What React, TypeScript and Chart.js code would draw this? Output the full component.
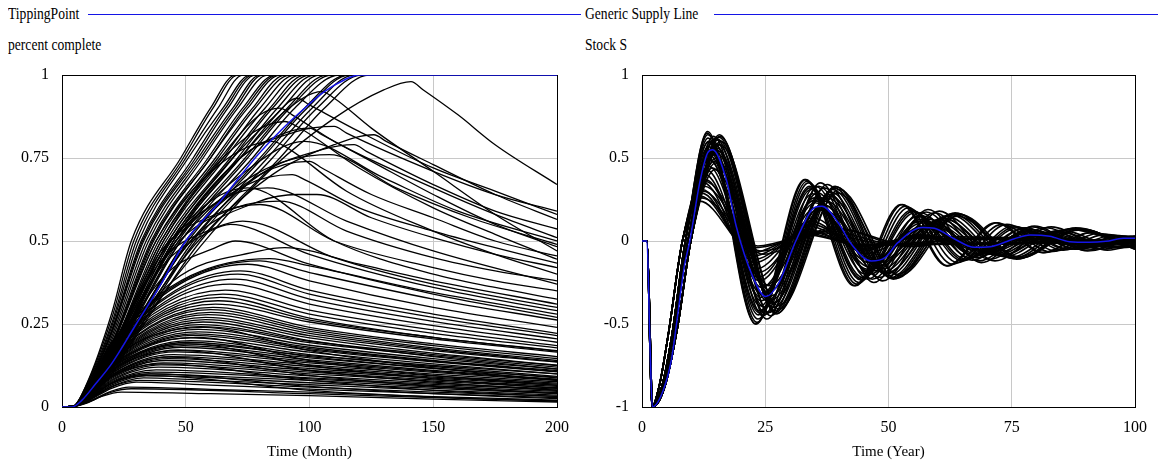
import React, { useEffect, useRef } from "react";
import { Chart, registerables } from "chart.js";
Chart.register(...registerables);

const SERIF = "'Liberation Serif', 'Times New Roman', serif";

// ---------- Left panel: TippingPoint / percent complete ----------
const TP_X_TICKS = [0, 50, 100, 150, 200];
const TP_Y_TICKS = [0, 0.25, 0.5, 0.75, 1];
// flat pairs: time, value
const TP_BASE = [0,0, 4,0, 8,0.02, 13.6,0.07, 20,0.13, 30,0.25, 40,0.37, 50,0.5, 64,0.62, 78,0.75, 88,0.83, 98,0.9, 106,0.95, 114,0.985, 120,1, 200,1];

const TP_SATURATING = [
  [0,0, 4,0, 10,0.07, 20,0.28, 28,0.5, 48,0.75, 60,0.9, 70,1, 200,1],
  [0,0, 4,0, 10,0.068, 20,0.265, 29,0.5, 49,0.75, 61,0.9, 71,1, 200,1],
  [0,0, 4,0, 10,0.065, 20,0.25, 30,0.5, 50,0.75, 63,0.9, 73,1, 200,1],
  [0,0, 4,0, 10,0.06, 20,0.24, 31,0.5, 51,0.75, 65,0.9, 76,1, 200,1],
  [0,0, 4,0, 10,0.06, 20,0.23, 32,0.5, 53,0.75, 66,0.9, 77,1, 200,1],
  [0,0, 4,0, 10,0.058, 20,0.225, 32.5,0.5, 54,0.75, 67,0.9, 78,1, 200,1],
  [0,0, 4,0, 10,0.055, 20,0.22, 33,0.5, 55,0.75, 69,0.9, 80,1, 200,1],
  [0,0, 4,0, 10,0.052, 20,0.21, 34,0.5, 56,0.75, 70,0.9, 81,1, 200,1],
  [0,0, 4,0, 10,0.05, 20,0.2, 35,0.5, 57,0.75, 71,0.9, 83,1, 200,1],
  [0,0, 4,0, 10,0.05, 20,0.19, 36,0.5, 59,0.75, 73,0.9, 86,1, 200,1],
  [0,0, 4,0, 10,0.05, 20,0.185, 36.5,0.5, 60,0.75, 74,0.9, 87,1, 200,1],
  [0,0, 4,0, 10,0.05, 20,0.18, 37,0.5, 60,0.75, 75,0.9, 88,1, 200,1],
  [0,0, 4,0, 10,0.045, 20,0.18, 38,0.5, 62,0.75, 77,0.9, 90,1, 200,1],
  [0,0, 4,0, 10,0.045, 20,0.17, 39,0.5, 63,0.75, 78,0.9, 92,1, 200,1],
  [0,0, 4,0, 10,0.045, 20,0.17, 40,0.5, 65,0.75, 80,0.9, 94,1, 200,1],
  [0,0, 4,0, 10,0.042, 20,0.165, 41,0.5, 66,0.75, 82,0.9, 96,1, 200,1],
  [0,0, 4,0, 10,0.04, 20,0.16, 42,0.5, 68,0.75, 84,0.9, 98,1, 200,1],
  [0,0, 4,0, 10,0.04, 20,0.155, 43,0.5, 69,0.75, 85,0.9, 100,1, 200,1],
  [0,0, 4,0, 10,0.04, 20,0.15, 44,0.5, 71,0.75, 87,0.9, 102,1, 200,1],
  [0,0, 4,0, 10,0.038, 20,0.145, 45,0.5, 72,0.75, 89,0.9, 104,1, 200,1],
  [0,0, 4,0, 10,0.035, 20,0.14, 46,0.5, 74,0.75, 91,0.9, 107,1, 200,1],
  [0,0, 4,0, 10,0.035, 20,0.138, 47,0.5, 75,0.75, 92,0.9, 109,1, 200,1],
  [0,0, 4,0, 10,0.035, 20,0.135, 48,0.5, 77,0.75, 94,0.9, 112,1, 200,1],
  [0,0, 4,0, 10,0.033, 20,0.128, 50,0.5, 80,0.75, 98,0.9, 115,1, 200,1],
  [0,0, 4,0, 10,0.032, 20,0.125, 51,0.5, 81,0.75, 99,0.9, 116,1, 200,1],
  [0,0, 4,0, 10,0.03, 20,0.12, 53,0.5, 83,0.75, 101,0.9, 118,1, 200,1],
  [0,0, 4,0, 10,0.03, 20,0.115, 54,0.5, 85,0.75, 103,0.9, 121,1, 200,1],
  [0,0, 4,0, 10,0.03, 20,0.11, 56,0.5, 88,0.75, 106,0.9, 124,1, 200,1],
];

const TP_PEAKED_HIGH = [
  [0,0, 5,0.003, 10,0.025, 20,0.1, 35,0.28, 60,0.52, 85,0.72, 110,0.87, 130,0.955, 141,0.98, 146,0.955, 160,0.88, 175,0.79, 200,0.67],
  [0,0, 5,0.003, 10,0.028, 20,0.11, 35,0.3, 55,0.5, 85,0.7, 110,0.79, 126,0.82, 131,0.8, 150,0.73, 175,0.64, 200,0.565],
  [0,0, 5,0.003, 10,0.03, 20,0.12, 35,0.32, 52,0.5, 80,0.7, 105,0.775, 118,0.79, 123,0.77, 150,0.67, 175,0.59, 200,0.536],
  [0,0, 5,0.003, 10,0.035, 20,0.14, 45,0.5, 72,0.75, 95,0.83, 110,0.845, 115,0.825, 150,0.71, 175,0.64, 200,0.59],
  [0,0, 5,0.003, 10,0.04, 20,0.15, 44,0.5, 72,0.75, 90,0.825, 100,0.84, 105,0.82, 125,0.74, 150,0.64, 175,0.55, 200,0.483],
  [0,0, 5,0.003, 10,0.03, 20,0.12, 50,0.5, 80,0.7, 100,0.74, 105,0.72, 125,0.64, 150,0.57, 175,0.5, 200,0.455],
  [0,0, 5,0.003, 10,0.03, 20,0.12, 52,0.5, 80,0.62, 95,0.64, 103,0.64, 125,0.57, 150,0.51, 175,0.46, 200,0.42],
  [0,0, 5,0.003, 10,0.035, 20,0.14, 46,0.5, 75,0.67, 93,0.7, 98,0.685, 120,0.6, 150,0.53, 175,0.48, 200,0.433],
  [0,0, 5,0.003, 10,0.04, 20,0.15, 45,0.48, 70,0.6, 88,0.62, 115,0.53, 150,0.45, 175,0.41, 200,0.38],
  [0,0, 5,0.003, 10,0.045, 20,0.17, 40,0.47, 62,0.58, 80,0.61, 110,0.5, 150,0.42, 175,0.38, 200,0.35],
  [0,0, 5,0.003, 10,0.04, 20,0.16, 43,0.5, 69,0.75, 85,0.87, 95,0.93, 100,0.91, 120,0.83, 150,0.72, 175,0.65, 200,0.58],
  [0,0, 5,0.003, 10,0.038, 20,0.15, 45,0.5, 72,0.75, 90,0.89, 105,0.95, 110,0.93, 125,0.84, 150,0.71, 175,0.58, 200,0.47],
  [0,0, 5,0.003, 10,0.045, 20,0.17, 41,0.5, 65,0.75, 90,0.86, 95,0.845, 120,0.72, 150,0.6, 175,0.52, 200,0.445],
  [0,0, 5,0.003, 10,0.05, 20,0.19, 38,0.5, 62,0.72, 85,0.8, 90,0.785, 115,0.65, 150,0.53, 175,0.46, 200,0.4],
  [0,0, 5,0.003, 10,0.05, 20,0.18, 40,0.46, 60,0.62, 75,0.66, 110,0.5, 150,0.4, 175,0.36, 200,0.325],
  [0,0, 5,0.003, 10,0.045, 20,0.17, 40,0.5, 64,0.75, 80,0.88, 88,0.9, 93,0.88, 110,0.8, 150,0.66, 175,0.58, 200,0.51],
  [0,0, 5,0.003, 10,0.04, 20,0.155, 46,0.5, 76,0.72, 98,0.8, 130,0.69, 160,0.59, 200,0.5],
  [0,0, 5,0.003, 10,0.035, 20,0.14, 48,0.5, 78,0.7, 108,0.76, 135,0.66, 165,0.57, 200,0.49],
  [0,0, 5,0.003, 10,0.045, 20,0.17, 42,0.48, 66,0.63, 83,0.66, 115,0.56, 150,0.47, 200,0.37],
  [0,0, 5,0.003, 10,0.05, 20,0.18, 40,0.44, 62,0.54, 73,0.56, 110,0.45, 150,0.37, 200,0.3],
];

const TP_PEAKED_MID = [
  [0,0, 5,0.003, 10,0.045, 20,0.17, 40,0.42, 60,0.53, 68,0.55, 100,0.46, 150,0.36, 200,0.29],
  [0,0, 5,0.003, 10,0.042, 20,0.16, 42,0.4, 62,0.48, 70,0.5, 100,0.43, 150,0.34, 200,0.27],
  [0,0, 5,0.003, 10,0.04, 20,0.15, 45,0.38, 80,0.47, 90,0.48, 120,0.43, 150,0.38, 200,0.31],
];

const TP_PEAKED_LOW = [
  [0,0, 5,0.002, 10,0.012, 16,0.032, 24,0.045, 60,0.04, 100,0.034, 150,0.024, 200,0.015],
  [0,0, 5,0.002, 10,0.013, 20,0.045, 28,0.055, 100,0.04, 150,0.028, 200,0.018],
  [0,0, 5,0.002, 10,0.014, 20,0.048, 27,0.06, 60,0.053, 100,0.045, 150,0.031, 200,0.021],
  [0,0, 5,0.002, 10,0.016, 20,0.056, 30,0.075, 60,0.066, 100,0.054, 150,0.04, 200,0.028],
  [0,0, 5,0.002, 10,0.017, 20,0.06, 31,0.08, 100,0.06, 150,0.045, 200,0.032],
  [0,0, 5,0.002, 10,0.018, 20,0.062, 33,0.088, 60,0.08, 100,0.067, 150,0.051, 200,0.036],
  [0,0, 5,0.002, 10,0.019, 20,0.066, 34,0.094, 100,0.073, 150,0.056, 200,0.04],
  [0,0, 5,0.002, 10,0.02, 20,0.07, 35,0.1, 60,0.093, 100,0.08, 150,0.06, 200,0.043],
  [0,0, 5,0.002, 10,0.021, 20,0.073, 36,0.105, 100,0.085, 150,0.064, 200,0.047],
  [0,0, 5,0.002, 10,0.022, 20,0.076, 38,0.112, 100,0.088, 150,0.068, 200,0.051],
  [0,0, 5,0.002, 10,0.023, 20,0.079, 39,0.12, 100,0.094, 150,0.072, 200,0.054],
  [0,0, 5,0.002, 10,0.024, 20,0.082, 40,0.127, 100,0.1, 150,0.078, 200,0.058],
  [0,0, 5,0.002, 10,0.025, 20,0.086, 41,0.133, 100,0.105, 150,0.082, 200,0.062],
  [0,0, 5,0.002, 10,0.026, 20,0.09, 42,0.14, 100,0.11, 150,0.087, 200,0.066],
  [0,0, 5,0.002, 10,0.027, 20,0.092, 43,0.146, 100,0.116, 150,0.09, 200,0.069],
  [0,0, 5,0.002, 10,0.027, 20,0.094, 44,0.152, 100,0.122, 150,0.094, 200,0.072],
  [0,0, 5,0.002, 10,0.028, 20,0.097, 45,0.158, 100,0.127, 150,0.099, 200,0.076],
  [0,0, 5,0.002, 10,0.028, 20,0.1, 46,0.166, 100,0.133, 150,0.104, 200,0.08],
  [0,0, 5,0.002, 10,0.029, 20,0.102, 47,0.172, 100,0.137, 150,0.107, 200,0.082],
  [0,0, 5,0.002, 10,0.03, 20,0.105, 48,0.18, 100,0.142, 150,0.11, 200,0.084],
  [0,0, 5,0.002, 10,0.03, 20,0.108, 49,0.185, 100,0.148, 150,0.116, 200,0.09],
  [0,0, 5,0.002, 10,0.03, 20,0.11, 50,0.19, 100,0.155, 150,0.125, 200,0.1],
  [0,0, 5,0.002, 10,0.031, 20,0.112, 51,0.195, 100,0.152, 150,0.117, 200,0.088],
  [0,0, 5,0.002, 10,0.031, 20,0.115, 52,0.2, 100,0.158, 150,0.122, 200,0.092],
  [0,0, 5,0.002, 10,0.032, 20,0.118, 52,0.208, 100,0.165, 150,0.13, 200,0.1],
  [0,0, 5,0.002, 10,0.032, 20,0.12, 53,0.216, 100,0.172, 150,0.136, 200,0.106],
  [0,0, 5,0.002, 10,0.033, 20,0.122, 54,0.22, 100,0.176, 150,0.138, 200,0.107],
  [0,0, 5,0.002, 10,0.033, 20,0.125, 55,0.226, 100,0.18, 150,0.14, 200,0.11],
  [0,0, 5,0.002, 10,0.034, 20,0.128, 55,0.234, 100,0.186, 150,0.146, 200,0.114],
  [0,0, 5,0.002, 10,0.034, 20,0.13, 56,0.242, 100,0.194, 150,0.154, 200,0.12],
  [0,0, 5,0.002, 10,0.035, 20,0.132, 56,0.248, 100,0.198, 150,0.158, 200,0.125],
  [0,0, 5,0.002, 10,0.035, 20,0.135, 57,0.256, 100,0.2, 150,0.152, 200,0.115],
  [0,0, 5,0.002, 10,0.036, 20,0.138, 58,0.263, 100,0.208, 150,0.162, 200,0.126],
  [0,0, 5,0.002, 10,0.036, 20,0.14, 58,0.27, 100,0.215, 150,0.17, 200,0.135],
  [0,0, 5,0.002, 10,0.037, 20,0.142, 59,0.278, 100,0.222, 150,0.174, 200,0.137],
  [0,0, 5,0.002, 10,0.037, 20,0.145, 60,0.285, 100,0.228, 150,0.178, 200,0.14],
  [0,0, 5,0.002, 10,0.038, 20,0.148, 60,0.293, 100,0.234, 150,0.185, 200,0.146],
  [0,0, 5,0.002, 10,0.038, 20,0.15, 61,0.3, 100,0.24, 150,0.19, 200,0.152],
  [0,0, 5,0.002, 10,0.039, 20,0.155, 62,0.31, 100,0.256, 150,0.205, 200,0.165],
  [0,0, 5,0.002, 10,0.04, 20,0.158, 63,0.32, 100,0.262, 150,0.21, 200,0.168],
  [0,0, 5,0.002, 10,0.04, 20,0.16, 64,0.33, 100,0.268, 150,0.21, 200,0.17],
  [0,0, 5,0.002, 10,0.041, 20,0.164, 65,0.34, 100,0.28, 150,0.222, 200,0.178],
  [0,0, 5,0.002, 10,0.042, 20,0.168, 66,0.352, 100,0.292, 150,0.232, 200,0.185],
  [0,0, 5,0.002, 10,0.042, 20,0.17, 68,0.37, 100,0.31, 150,0.245, 200,0.195],
  [0,0, 5,0.002, 10,0.043, 20,0.172, 70,0.385, 100,0.325, 150,0.258, 200,0.205],
  [0,0, 5,0.002, 10,0.044, 20,0.176, 71,0.4, 100,0.34, 150,0.27, 200,0.215],
  [0,0, 5,0.002, 10,0.045, 20,0.178, 72,0.41, 100,0.352, 150,0.28, 200,0.222],
  [0,0, 5,0.002, 10,0.046, 20,0.184, 75,0.43, 100,0.38, 150,0.3, 200,0.24],
  [0,0, 5,0.002, 10,0.047, 20,0.19, 80,0.44, 100,0.405, 150,0.325, 200,0.262],
  [0,0, 5,0.002, 10,0.048, 20,0.195, 84,0.447, 100,0.425, 150,0.345, 200,0.28],
  [0,0, 5,0.002, 10,0.02, 20,0.07, 34,0.095, 100,0.05, 150,0.03, 200,0.018],
  [0,0, 5,0.002, 10,0.02, 20,0.072, 36,0.1, 100,0.062, 150,0.04, 200,0.025],
  [0,0, 5,0.002, 10,0.025, 20,0.09, 40,0.13, 100,0.08, 150,0.05, 200,0.032],
  [0,0, 5,0.002, 10,0.027, 20,0.095, 43,0.15, 100,0.095, 150,0.062, 200,0.04],
  [0,0, 5,0.002, 10,0.03, 20,0.11, 47,0.17, 100,0.11, 150,0.075, 200,0.05],
  [0,0, 5,0.002, 10,0.032, 20,0.118, 51,0.19, 100,0.125, 150,0.085, 200,0.056],
  [0,0, 5,0.002, 10,0.033, 20,0.125, 54,0.21, 100,0.14, 150,0.095, 200,0.065],
  [0,0, 5,0.002, 10,0.036, 20,0.14, 57,0.24, 100,0.17, 150,0.118, 200,0.08],
];

// ---------- Right panel: Generic Supply Line / Stock S ----------
const SS_X_TICKS = [0, 25, 50, 75, 100];
const SS_Y_TICKS = [-1, -0.5, 0, 0.5, 1];
const SS_BASE = [0,0, 1,0, 1.6,-0.6, 2.1,-1, 4.3,-0.9, 6,-0.71, 7,-0.5, 8.6,-0.15, 9.7,0, 11.7,0.35, 13.3,0.53, 14.3,0.55, 17.1,0.37, 19.1,0.09, 22.4,-0.21, 25.1,-0.335, 27.8,-0.25, 31.2,0, 35.2,0.205, 36.5,0.21, 39.8,0.11, 42.5,-0.02, 46.5,-0.12, 49.3,-0.1, 51.9,-0.01, 56.9,0.082, 59.3,0.077, 63.4,0.012, 67.4,-0.038, 70.7,-0.034, 75.4,0.012, 78.7,0.036, 82.7,0.028, 86.7,-0.004, 90.7,-0.008, 94.1,-0.002, 97.6,0.016, 100,0.016];

const SS_START_A = [0,0, 1,0, 2.1,-1, 4,-0.88, 6,-0.58, 8.8,0];
const SS_START_B = [0,0, 1,0, 2.2,-1, 4.6,-0.88, 7.2,-0.52, 9.9,0];
const SS_START_C = [0,0, 1,0, 2.15,-1, 4.2,-0.88, 6.5,-0.55, 9.3,0];
const SS_START_D = [0,0, 1,0, 2,-1, 3.6,-0.86, 5.4,-0.55, 8.2,0];

const SS_RUNS_A = [
  [13.3,0.66, 23.1,-0.5, 33.2,0.37, 43.3,-0.27, 52.8,0.22, 62,-0.15, 72,0.11, 81.5,-0.07, 91,0.05, 100,-0.02],
  [13.25,0.65, 23,-0.5, 33,0.37, 43,-0.27, 52.5,0.22, 61.8,-0.15, 71.6,0.11, 81.2,-0.07, 90.8,0.05, 100,-0.025],
  [13.35,0.64, 23.3,-0.49, 33.5,0.36, 43.6,-0.26, 53.4,0.21, 63,-0.14, 73,0.1, 82.8,-0.065, 92.5,0.045, 100,-0.01],
  [13.4,0.62, 23.5,-0.47, 33.8,0.35, 44,-0.25, 54,0.2, 64,-0.13, 74,0.1, 84,-0.06, 94,0.04, 100,0.01],
  [13.45,0.595, 23.6,-0.445, 34,0.33, 44.4,-0.235, 54.6,0.185, 65,-0.12, 75.2,0.09, 85.4,-0.055, 95.6,0.035, 100,0.02],
  [13.5,0.6, 23.7,-0.43, 34.1,0.32, 44.6,-0.23, 55,0.18, 65.4,-0.115, 75.8,0.085, 86.2,-0.05, 96.6,0.03, 100,0.02],
  [13.5,0.57, 23.8,-0.42, 34.3,0.31, 44.8,-0.22, 55.3,0.17, 65.8,-0.11, 76.3,0.08, 86.8,-0.05, 97.3,0.03, 100,0.02],
  [13.55,0.545, 24,-0.39, 34.6,0.285, 45.3,-0.2, 56,0.15, 66.6,-0.1, 77.2,0.07, 88,-0.045, 98.5,0.025, 100,0.024],
  [13.6,0.52, 24.2,-0.36, 35,0.26, 45.8,-0.18, 56.6,0.13, 67.4,-0.09, 78.2,0.06, 89,-0.04, 100,0.02],
  [13.5,0.5, 24.1,-0.34, 34.9,0.245, 45.7,-0.17, 56.5,0.12, 67.3,-0.08, 78,0.055, 88.8,-0.035, 100,0.02],
  [13.6,0.49, 24.2,-0.32, 35.1,0.23, 46,-0.155, 56.8,0.11, 67.7,-0.075, 78.6,0.05, 89.5,-0.03, 100,0.015],
  [13.5,0.45, 24.3,-0.28, 35.2,0.2, 46,-0.13, 57,0.09, 68,-0.06, 79,0.04, 90,-0.025, 100,0.01],
];
const SS_RUNS_B = [
  [15.7,0.64, 27.2,-0.44, 39.2,0.33, 51,-0.23, 63.5,0.17, 76,-0.11, 88,0.08, 100,-0.05],
  [15.8,0.63, 27.4,-0.435, 39.5,0.325, 51.5,-0.225, 64,0.165, 76.4,-0.105, 88.6,0.075, 100,-0.05],
  [15.6,0.625, 27,-0.43, 39,0.32, 50.7,-0.225, 63,0.165, 75.2,-0.105, 87.2,0.075, 100,-0.045],
  [15.5,0.61, 26.9,-0.42, 38.7,0.31, 50.4,-0.22, 62.5,0.16, 74.5,-0.1, 86.5,0.07, 100,-0.04],
  [15.35,0.585, 26.7,-0.4, 38.3,0.295, 50,-0.21, 61.7,0.15, 73.5,-0.095, 85,0.065, 96.8,-0.04, 100,-0.035],
  [15.9,0.58, 27.6,-0.39, 39.7,0.29, 51.8,-0.2, 64,0.15, 76.3,-0.095, 88.5,0.065, 100,-0.04],
  [15.2,0.56, 26.5,-0.38, 38,0.28, 49.5,-0.2, 61,0.14, 72.5,-0.09, 84,0.06, 95.5,-0.04, 100,-0.03],
  [15.25,0.545, 26.6,-0.37, 38.1,0.27, 49.7,-0.19, 61.3,0.135, 72.9,-0.087, 84.3,0.058, 95.8,-0.037, 100,-0.025],
  [15.1,0.53, 26.3,-0.355, 37.7,0.26, 49,-0.185, 60.4,0.13, 71.8,-0.085, 83,0.055, 94.5,-0.035, 100,-0.02],
  [15,0.5, 26.2,-0.33, 37.4,0.24, 48.6,-0.17, 59.8,0.12, 71,-0.08, 82.2,0.05, 93.4,-0.03, 100,-0.01],
  [14.9,0.47, 26,-0.3, 37,0.215, 48.2,-0.15, 59.3,0.105, 70.4,-0.07, 81.5,0.045, 92.6,-0.025, 100,-0.005],
  [14.8,0.43, 25.8,-0.27, 36.8,0.19, 47.8,-0.13, 58.8,0.09, 69.8,-0.06, 80.8,0.04, 91.8,-0.02, 100,0],
  [16,0.6, 27.8,-0.41, 40,0.31, 52.2,-0.21, 64.5,0.16, 76.8,-0.1, 89,0.07, 100,-0.045],
];
const SS_RUNS_C = [
  [14,0.6, 24.5,-0.45, 35.2,0.33, 45.8,-0.23, 56.5,0.17, 67,-0.115, 77.7,0.08, 88.3,-0.05, 99,0.03, 100,0.03],
  [14.5,0.63, 25.3,-0.47, 36.2,0.35, 47,-0.25, 58,0.19, 68.8,-0.13, 79.6,0.09, 90.4,-0.06, 100,0.03],
  [14.4,0.6, 25.1,-0.44, 35.9,0.33, 46.7,-0.23, 57.6,0.175, 68.4,-0.12, 79.2,0.085, 90,-0.055, 100,0.02],
  [14.2,0.55, 24.8,-0.4, 35.6,0.29, 46.3,-0.2, 57,0.15, 67.8,-0.1, 78.5,0.07, 89.3,-0.045, 100,0.02],
  [14.6,0.52, 25.4,-0.36, 36.4,0.26, 47.3,-0.18, 58.3,0.13, 69.2,-0.085, 80.2,0.06, 91.1,-0.035, 100,0.01],
  [14.7,0.48, 25.6,-0.31, 36.6,0.22, 47.6,-0.15, 58.6,0.105, 69.6,-0.07, 80.6,0.045, 91.6,-0.028, 100,0.005],
  [14.8,0.58, 25.8,-0.43, 37,0.32, 48,-0.22, 59.3,0.17, 70.5,-0.11, 81.8,0.08, 93,-0.05, 100,-0.01],
  [14.3,0.44, 25,-0.27, 35.8,0.19, 46.6,-0.12, 57.4,0.08, 68.2,-0.05, 79,0.03, 90,-0.02, 100,0],
  [15,0.62, 26.1,-0.45, 37.6,0.34, 48.8,-0.24, 60.3,0.18, 71.6,-0.12, 83,0.085, 94.4,-0.055, 100,-0.02],
];
const SS_RUNS_D = [
  [12.5,0.35, 23,-0.17, 33.8,0.09, 44.5,-0.045, 55,0.025, 66,-0.012, 100,0],
  [11.7,0.24, 22.5,-0.07, 33,0.04, 44,-0.02, 100,0],
  [11.9,0.27, 22.6,-0.09, 33.2,0.05, 44,-0.025, 100,0],
  [12,0.29, 22.8,-0.11, 33.5,0.06, 44.2,-0.03, 55,0.015, 100,0],
  [12.2,0.31, 22.9,-0.13, 33.6,0.07, 44.3,-0.035, 55,0.018, 100,0],
  [12.9,0.37, 23.6,-0.19, 34.4,0.1, 45.2,-0.05, 56,0.028, 100,0],
  [12.8,0.4, 23.5,-0.22, 34.2,0.12, 45,-0.06, 55.8,0.035, 66.6,-0.018, 100,0],
  [13,0.43, 23.8,-0.24, 34.6,0.14, 45.4,-0.075, 56.2,0.04, 67,-0.02, 100,0],
  [12.6,0.33, 24,-0.06, 40,0.07, 55,-0.03, 70,0.02, 100,0],
  [12.4,0.3, 23,-0.04, 38,0.06, 52,-0.025, 68,0.015, 100,0],
  [12.1,0.26, 23.5,-0.03, 36,0.05, 50,-0.02, 65,0.01, 100,0],
  [12.7,0.36, 24.5,-0.08, 39,0.08, 54,-0.035, 69,0.02, 84,-0.01, 100,0],
];

const BLACK = "#000000";
const BLUE = "#1414e6";

function toPoints(flat: number[]) {
  const pts: { x: number; y: number }[] = [];
  for (let i = 0; i < flat.length; i += 2) pts.push({ x: flat[i], y: flat[i + 1] });
  return pts;
}

function blackSet(flat: number[], width: number) {
  return {
    data: toPoints(flat),
    borderColor: BLACK,
    borderWidth: width,
    pointRadius: 0,
    fill: false,
    cubicInterpolationMode: "monotone" as const,
    order: 1,
  };
}

function blueSet(flat: number[]) {
  return {
    data: toPoints(flat),
    borderColor: BLUE,
    borderWidth: 1.5,
    pointRadius: 0,
    fill: false,
    cubicInterpolationMode: "monotone" as const,
    order: -1,
  };
}

const framePlugin = {
  id: "frame",
  beforeDatasetsDraw(chart: any) {
    const { ctx, chartArea } = chart;
    const l = Math.round(chartArea.left) + 0.5;
    const t = Math.round(chartArea.top) + 0.5;
    const r = Math.round(chartArea.right) + 0.5;
    const b = Math.round(chartArea.bottom) + 0.5;
    ctx.save();
    ctx.strokeStyle = "#000";
    ctx.lineWidth = 1;
    ctx.strokeRect(l, t, r - l, b - t);
    ctx.restore();
  },
};

type PanelProps = {
  left: number;
  width: number;
  padRight: number;
  datasets: any[];
  xTicks: number[];
  yTicks: number[];
  xTitle: string;
};

function Panel({ left, width, padRight, datasets, xTicks, yTicks, xTitle }: PanelProps) {
  const ref = useRef<HTMLCanvasElement | null>(null);
  useEffect(() => {
    if (!ref.current) return;
    const tickFont = { family: SERIF, size: 16 };
    const titleFont = { family: SERIF, size: 15 };
    const chart = new Chart(ref.current, {
      type: "line",
      data: { datasets },
      options: {
        animation: false,
        responsive: false,
        maintainAspectRatio: false,
        events: [],
        layout: { padding: { top: 75, right: padRight, left: 0, bottom: 0 } },
        plugins: { legend: { display: false }, tooltip: { enabled: false } },
        scales: {
          x: {
            type: "linear",
            min: xTicks[0],
            max: xTicks[xTicks.length - 1],
            afterBuildTicks: (s: any) => {
              s.ticks = xTicks.map((v) => ({ value: v }));
            },
            afterFit: (s: any) => {
              s.height = 57;
            },
            ticks: {
              color: "#000",
              font: tickFont,
              padding: 11,
              maxRotation: 0,
              autoSkip: false,
              callback: (v: any) => String(v),
            },
            grid: { color: "#c8c8c8", lineWidth: 1, drawTicks: false },
            border: { display: false },
            title: {
              display: true,
              text: xTitle,
              color: "#000",
              font: titleFont,
              padding: { top: 0, bottom: 3 },
            },
          },
          y: {
            type: "linear",
            min: yTicks[0],
            max: yTicks[yTicks.length - 1],
            afterBuildTicks: (s: any) => {
              s.ticks = yTicks.map((v) => ({ value: v }));
            },
            afterFit: (s: any) => {
              s.width = 62;
            },
            ticks: {
              color: "#000",
              font: tickFont,
              padding: 13,
              autoSkip: false,
              callback: (v: any) => String(v),
            },
            grid: { color: "#c8c8c8", lineWidth: 1, drawTicks: false },
            border: { display: false },
          },
        },
      },
      plugins: [framePlugin],
    } as any);
    return () => chart.destroy();
  }, []);
  return (
    <canvas
      ref={ref}
      width={width}
      height={464}
      style={{ position: "absolute", left, top: 0, width, height: 464 }}
    />
  );
}

const textStyle: React.CSSProperties = {
  position: "absolute",
  fontFamily: SERIF,
  fontSize: 17,
  lineHeight: "19px",
  color: "#000",
  whiteSpace: "nowrap",
  transform: "scaleX(0.8)",
  transformOrigin: "left top",
};

export default function App() {
  const tpSets = [
    blueSet(TP_BASE),
    ...TP_SATURATING.map((d) => blackSet(d, 1.3)),
    ...TP_PEAKED_HIGH.map((d) => blackSet(d, 1.3)),
    ...TP_PEAKED_MID.map((d) => blackSet(d, 1.3)),
    ...TP_PEAKED_LOW.map((d) => blackSet(d, 1.3)),
  ];
  const ssSets = [
    blueSet(SS_BASE),
    ...SS_RUNS_A.map((r) => blackSet([...SS_START_A, ...r], 1.6)),
    ...SS_RUNS_B.map((r) => blackSet([...SS_START_B, ...r], 1.6)),
    ...SS_RUNS_C.map((r) => blackSet([...SS_START_C, ...r], 1.6)),
    ...SS_RUNS_D.map((r) => blackSet([...SS_START_D, ...r], 1.6)),
  ];
  return (
    <div style={{ position: "absolute", left: 0, top: 0, width: 1158, height: 464, background: "#fff", overflow: "hidden" }}>
      <div style={{ ...textStyle, left: 8, top: 4 }}>TippingPoint</div>
      <div style={{ position: "absolute", left: 88, top: 14, width: 493, height: 1, background: BLUE }} />
      <div style={{ ...textStyle, left: 8, top: 35 }}>percent complete</div>
      <div style={{ ...textStyle, left: 585, top: 4 }}>Generic Supply Line</div>
      <div style={{ position: "absolute", left: 714, top: 14, width: 444, height: 1, background: BLUE }} />
      <div style={{ ...textStyle, left: 585, top: 35 }}>Stock S</div>
      <Panel left={0} width={580} padRight={17} datasets={tpSets} xTicks={TP_X_TICKS} yTicks={TP_Y_TICKS} xTitle="Time (Month)" />
      <Panel left={580} width={578} padRight={19} datasets={ssSets} xTicks={SS_X_TICKS} yTicks={SS_Y_TICKS} xTitle="Time (Year)" />
    </div>
  );
}
